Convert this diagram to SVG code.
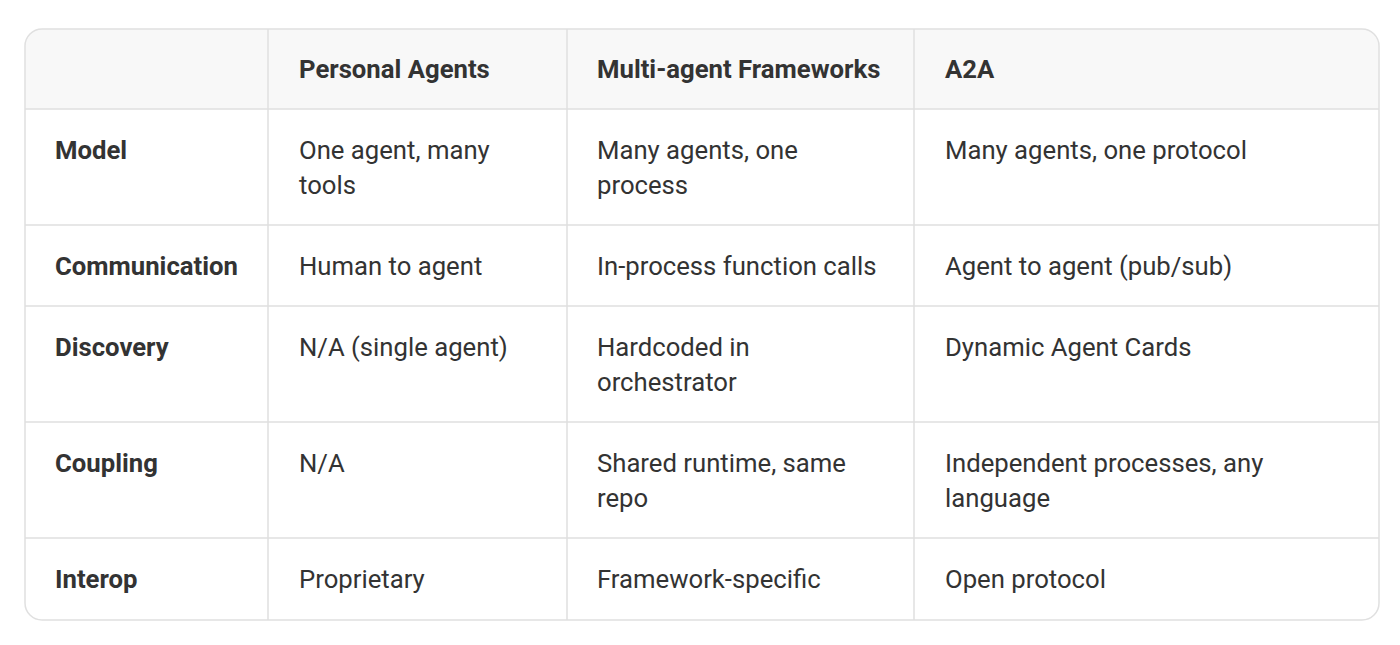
<svg xmlns="http://www.w3.org/2000/svg" width="1400" height="645" viewBox="0 0 1400 645">
<style>
.t{font-family:Roboto,"Liberation Sans",sans-serif;font-size:25.7px;fill:#333}
.b{font-weight:bold}
.l{stroke:#e0e0e0;stroke-width:1.5;fill:none}
</style>
<rect width="1400" height="645" fill="#fff"/>
<defs><clipPath id="c"><rect x="25" y="29" width="1354" height="591" rx="17"/></clipPath></defs>
<rect x="25" y="29" width="1354" height="80" fill="#f8f8f8" clip-path="url(#c)"/>
<g id="grid" class="l">
<rect x="25" y="29" width="1354" height="591" rx="17"/>
<path d="M268 29V620M567 29V620M914 29V620M25 109H1379M25 225H1379M25 306H1379M25 422H1379M25 538H1379"/>
</g>
<g id="header" class="t b">
<text x="299" y="78">Personal Agents</text><text x="597" y="78">Multi-agent Frameworks</text><text x="945" y="78">A2A</text>
</g>
<g id="r1" class="t"><text x="55" y="159" class="b">Model</text><text x="299" y="159">One agent, many</text><text x="299" y="194">tools</text><text x="597" y="159">Many agents, one</text><text x="597" y="194">process</text><text x="945" y="159">Many agents, one protocol</text></g>
<g id="r2" class="t"><text x="55" y="275" class="b">Communication</text><text x="299" y="275">Human to agent</text><text x="597" y="275">In-process function calls</text><text x="945" y="275">Agent to agent (pub/sub)</text></g>
<g id="r3" class="t"><text x="55" y="356" class="b">Discovery</text><text x="299" y="356">N/A (single agent)</text><text x="597" y="356">Hardcoded in</text><text x="597" y="391">orchestrator</text><text x="945" y="356">Dynamic Agent Cards</text></g>
<g id="r4" class="t"><text x="55" y="472" class="b">Coupling</text><text x="299" y="472">N/A</text><text x="597" y="472">Shared runtime, same</text><text x="597" y="507">repo</text><text x="945" y="472">Independent processes, any</text><text x="945" y="507">language</text></g>
<g id="r5" class="t"><text x="55" y="588" class="b">Interop</text><text x="299" y="588">Proprietary</text><text x="597" y="588">Framework-specific</text><text x="945" y="588">Open protocol</text></g>
</svg>
